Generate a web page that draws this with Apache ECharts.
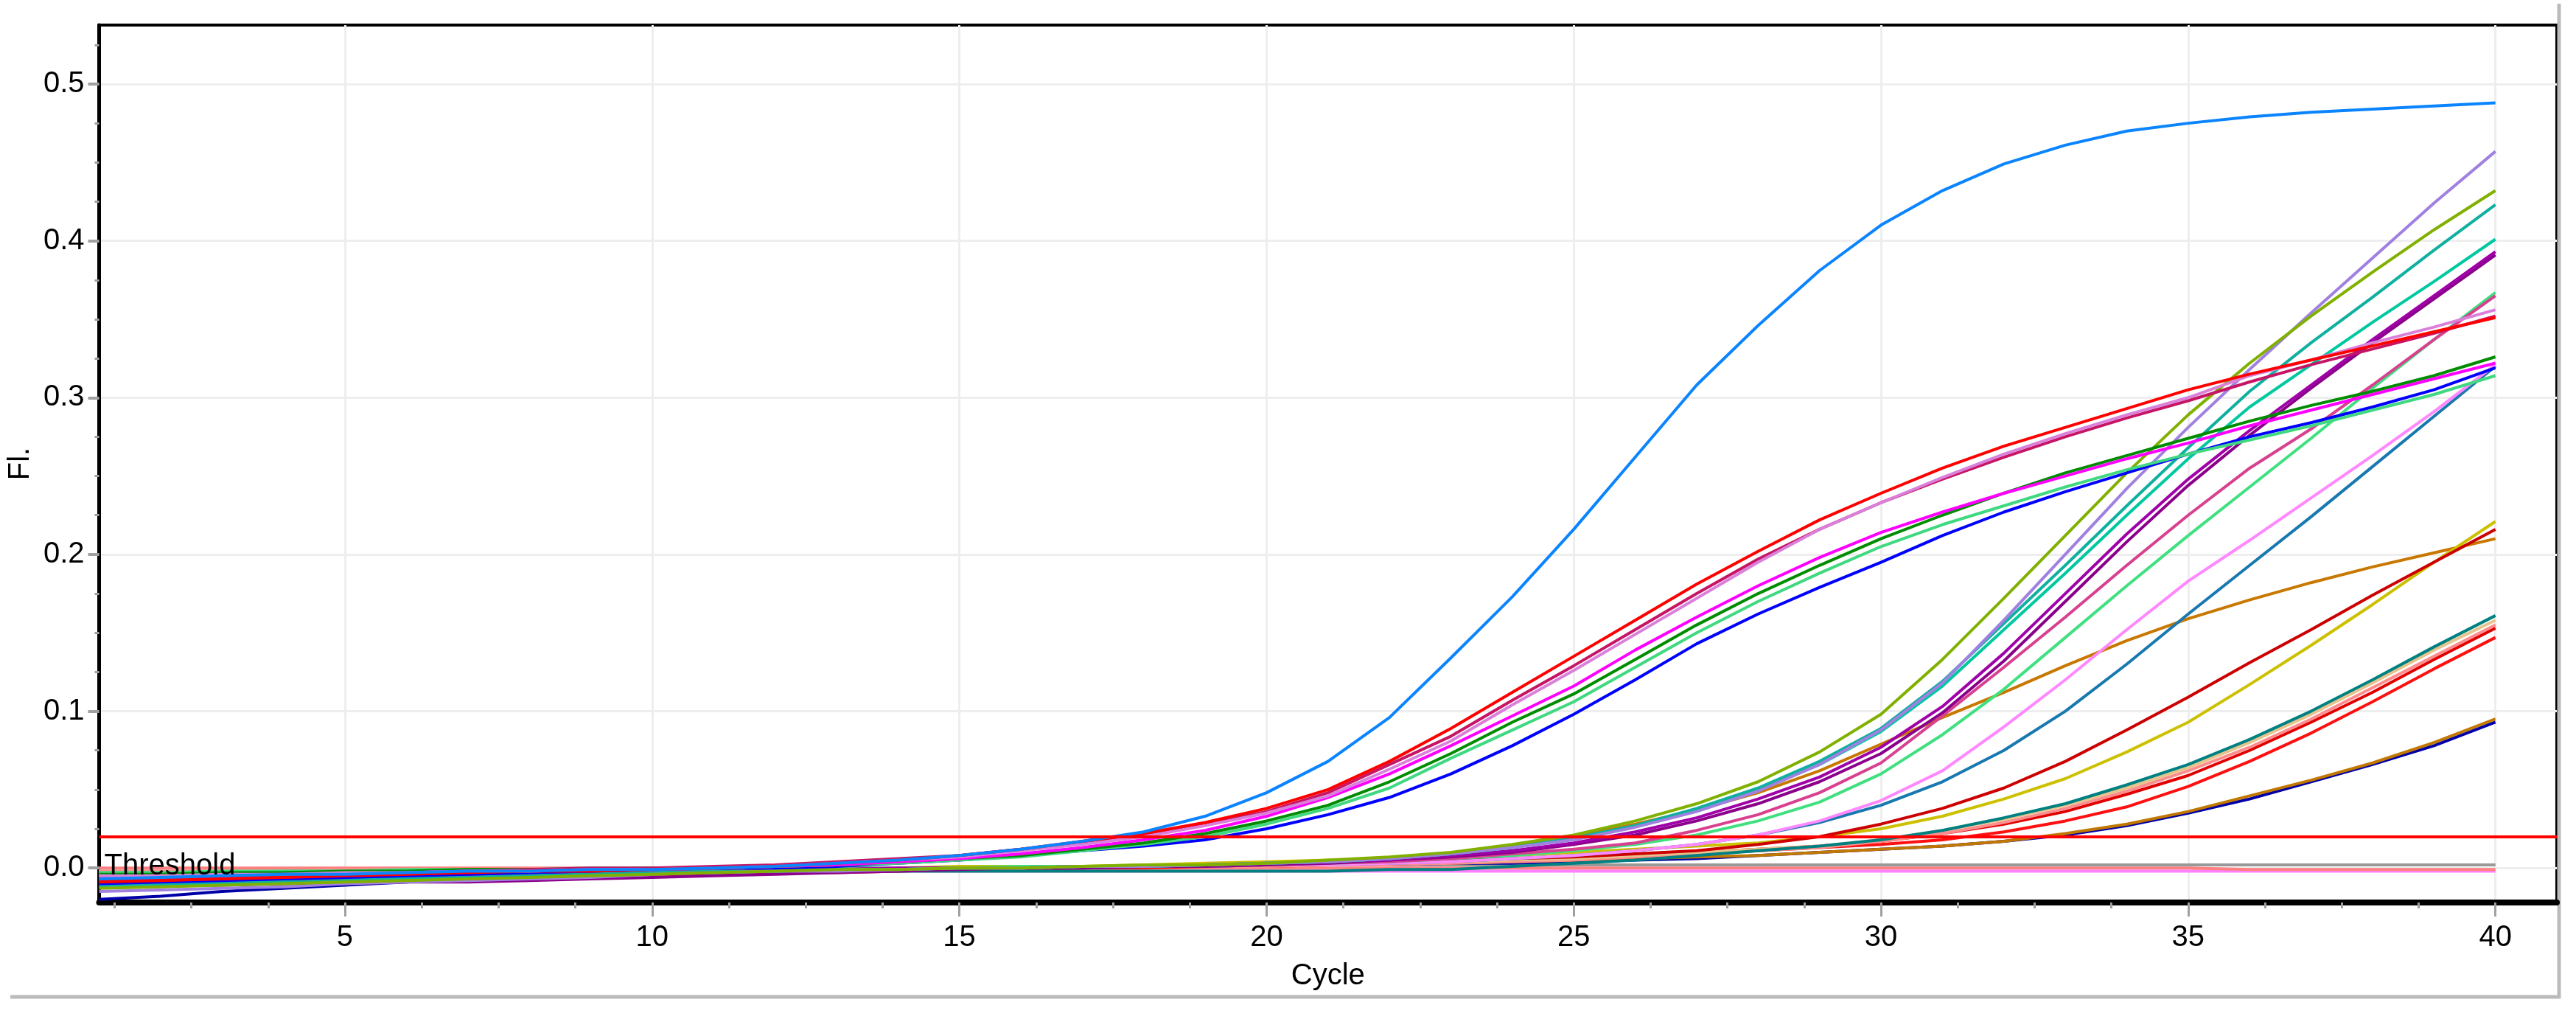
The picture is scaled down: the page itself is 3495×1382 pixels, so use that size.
<!DOCTYPE html>
<html>
<head>
<meta charset="utf-8">
<style>
html,body{margin:0;padding:0;background:#fff;}
#chart{width:3495px;height:1382px;}
</style>
<script src="https://cdn.jsdelivr.net/npm/echarts@6/dist/echarts.min.js"></script>
</head>
<body>
<div id="chart"></div>
<script>
const FONT = "'Liberation Sans Narrow','Arial Narrow','Liberation Sans',Arial,sans-serif";

const cycles = [1,2,3,4,5,6,7,8,9,10,11,12,13,14,15,16,17,18,19,20,21,22,23,24,25,26,27,28,29,30,31,32,33,34,35,36,37,38,39,40];
const xTickValues = [5,10,15,20,25,30,35,40];
const xMinorTicks = [1.25,2.5,3.75,6.25,7.5,8.75,11.25,12.5,13.75,16.25,17.5,18.75,21.25,22.5,23.75,26.25,27.5,28.75,31.25,32.5,33.75,36.25,37.5,38.75];
const yTickValues = [0,0.1,0.2,0.3,0.4,0.5];
const yMinorTicks = [0.025,0.05,0.075,0.125,0.15,0.175,0.225,0.25,0.275,0.325,0.35,0.375,0.425,0.45,0.475,0.525];
const threshold = 0.0155;

// ---- flat (negative) curves ----
const grayFlat = [-0.002,-0.002,-0.002,-0.001,-0.001,-0.001,-0.001,-0.001,0.000,0.000,0.000,0.000,0.000,0.000,0.000,0.000,0.001,0.001,0.001,0.001,0.002,0.002,0.002,0.002,0.002,0.002,0.002,0.002,0.002,0.002,0.002,0.002,0.002,0.002,0.002,0.002,0.002,0.002,0.002,0.002];
const lightGrayFlat = [-0.002,-0.002,-0.002,-0.002,-0.001,-0.001,-0.001,-0.001,-0.001,-0.001,-0.001,-0.001,-0.001,-0.001,-0.001,-0.001,-0.001,-0.001,-0.001,-0.001,-0.001,-0.001,-0.001,-0.001,-0.001,-0.001,-0.001,-0.001,-0.001,-0.001,-0.001,-0.001,-0.001,-0.001,-0.001,-0.001,-0.001,-0.001,-0.001,-0.001];
const violetFlat = [-0.005,-0.005,-0.004,-0.004,-0.004,-0.003,-0.003,-0.003,-0.003,-0.002,-0.002,-0.002,-0.002,-0.002,-0.002,-0.002,-0.002,-0.002,-0.002,-0.002,-0.002,-0.002,-0.002,-0.002,-0.002,-0.002,-0.002,-0.002,-0.002,-0.002,-0.002,-0.002,-0.002,-0.002,-0.002,-0.002,-0.002,-0.002,-0.002,-0.002];
const salmonFlat = [0.000,0.000,0.000,0.000,0.000,0.000,0.000,0.000,0.000,0.000,0.000,0.000,0.000,0.000,0.000,0.000,0.000,0.000,0.000,0.000,0.000,0.000,0.000,0.000,0.000,0.000,0.000,0.000,0.000,0.000,0.000,0.000,0.000,0.000,0.000,-0.001,-0.001,-0.001,-0.001,-0.001];

// ---- late curves ----
const navy = [-0.020,-0.018,-0.015,-0.013,-0.011,-0.009,-0.007,-0.006,-0.004,-0.003,-0.002,-0.001,-0.001,0.000,0.000,0.000,0.001,0.001,0.001,0.002,0.002,0.002,0.003,0.003,0.004,0.005,0.006,0.008,0.010,0.012,0.014,0.017,0.021,0.027,0.035,0.044,0.055,0.066,0.078,0.093];
const brownLow = [-0.006,-0.006,-0.005,-0.005,-0.004,-0.004,-0.003,-0.003,-0.002,-0.002,-0.002,-0.001,-0.001,0.000,0.000,0.000,0.001,0.001,0.001,0.002,0.002,0.003,0.003,0.004,0.005,0.006,0.007,0.008,0.010,0.012,0.014,0.017,0.022,0.028,0.036,0.046,0.056,0.067,0.080,0.095];
const redLow = [-0.009,-0.009,-0.008,-0.008,-0.007,-0.007,-0.006,-0.006,-0.005,-0.004,-0.004,-0.003,-0.003,-0.002,-0.001,-0.001,0.000,0.000,0.001,0.001,0.002,0.003,0.004,0.005,0.007,0.008,0.009,0.011,0.013,0.015,0.018,0.023,0.030,0.039,0.052,0.068,0.086,0.106,0.127,0.147];
const redMid = [-0.010,-0.010,-0.009,-0.009,-0.008,-0.008,-0.007,-0.006,-0.005,-0.004,-0.004,-0.003,-0.002,-0.001,-0.001,0.000,0.000,0.001,0.001,0.002,0.002,0.003,0.004,0.005,0.007,0.008,0.010,0.012,0.014,0.017,0.022,0.028,0.036,0.047,0.059,0.075,0.093,0.112,0.133,0.153];
const salmonLate = [-0.002,-0.002,-0.002,-0.002,-0.001,-0.001,-0.001,-0.001,-0.001,0.000,0.000,0.000,0.000,0.000,0.000,0.000,0.001,0.001,0.001,0.001,0.002,0.002,0.003,0.004,0.005,0.007,0.009,0.011,0.013,0.017,0.022,0.029,0.038,0.049,0.062,0.077,0.095,0.115,0.135,0.155];
const tan = [-0.004,-0.004,-0.003,-0.003,-0.003,-0.002,-0.002,-0.002,-0.001,-0.001,-0.001,-0.001,0.000,0.000,0.000,0.000,0.001,0.001,0.001,0.002,0.002,0.003,0.004,0.005,0.006,0.008,0.010,0.012,0.014,0.018,0.024,0.031,0.040,0.051,0.064,0.080,0.098,0.118,0.139,0.158];
const tealLate = [-0.006,-0.006,-0.005,-0.005,-0.004,-0.004,-0.004,-0.003,-0.003,-0.003,-0.002,-0.002,-0.002,-0.002,-0.002,-0.002,-0.002,-0.002,-0.002,-0.002,-0.002,-0.001,-0.001,0.001,0.003,0.005,0.008,0.011,0.014,0.018,0.024,0.032,0.041,0.053,0.066,0.082,0.100,0.120,0.141,0.161];
const orangeBrown = [-0.007,-0.006,-0.006,-0.005,-0.005,-0.004,-0.004,-0.003,-0.003,-0.002,-0.002,-0.001,-0.001,0.000,0.000,0.001,0.001,0.001,0.002,0.002,0.004,0.006,0.009,0.014,0.020,0.028,0.037,0.048,0.062,0.079,0.096,0.112,0.129,0.145,0.159,0.171,0.182,0.192,0.201,0.210];
const yellow = [-0.004,-0.004,-0.003,-0.003,-0.003,-0.002,-0.002,-0.002,-0.001,-0.001,-0.001,0.000,0.000,0.000,0.001,0.001,0.001,0.002,0.003,0.004,0.005,0.006,0.007,0.008,0.010,0.012,0.014,0.016,0.020,0.025,0.033,0.044,0.057,0.074,0.093,0.117,0.142,0.168,0.195,0.221];
const darkRed = [-0.009,-0.008,-0.008,-0.007,-0.006,-0.006,-0.005,-0.004,-0.004,-0.003,-0.002,-0.002,-0.001,-0.001,0.000,0.000,0.001,0.001,0.001,0.002,0.003,0.004,0.005,0.006,0.007,0.009,0.011,0.015,0.020,0.028,0.038,0.051,0.068,0.088,0.109,0.131,0.152,0.174,0.195,0.216];

// ---- middle curves ----
const steelBlue = [-0.010,-0.009,-0.008,-0.007,-0.006,-0.006,-0.005,-0.004,-0.003,-0.003,-0.002,-0.002,-0.001,-0.001,0.000,0.000,0.000,0.001,0.001,0.002,0.002,0.003,0.004,0.006,0.008,0.011,0.015,0.021,0.029,0.040,0.055,0.075,0.100,0.130,0.162,0.193,0.224,0.256,0.288,0.320];
const violet = [-0.005,-0.005,-0.004,-0.004,-0.003,-0.003,-0.002,-0.002,-0.001,-0.001,-0.001,0.000,0.000,0.000,0.000,0.000,0.001,0.001,0.001,0.002,0.002,0.003,0.004,0.006,0.008,0.011,0.015,0.021,0.030,0.043,0.062,0.090,0.120,0.152,0.183,0.209,0.236,0.263,0.291,0.321];
const springGreen = [-0.003,-0.003,-0.002,-0.002,-0.002,-0.001,-0.001,-0.001,0.000,0.000,0.000,0.000,0.000,0.000,0.000,0.001,0.001,0.001,0.002,0.002,0.003,0.004,0.006,0.008,0.011,0.015,0.021,0.030,0.042,0.060,0.085,0.114,0.147,0.180,0.212,0.243,0.274,0.306,0.337,0.367];
const raspberry = [-0.008,-0.007,-0.007,-0.006,-0.005,-0.005,-0.004,-0.003,-0.003,-0.002,-0.002,-0.001,-0.001,0.000,0.000,0.000,0.001,0.001,0.001,0.002,0.003,0.004,0.006,0.009,0.012,0.016,0.024,0.034,0.048,0.067,0.097,0.128,0.160,0.193,0.225,0.255,0.280,0.308,0.337,0.365];
const purple = [-0.012,-0.011,-0.011,-0.010,-0.010,-0.009,-0.009,-0.008,-0.007,-0.006,-0.005,-0.004,-0.003,-0.002,-0.001,0.000,0.000,0.001,0.001,0.002,0.003,0.005,0.007,0.010,0.015,0.021,0.030,0.041,0.055,0.073,0.099,0.132,0.170,0.208,0.244,0.276,0.306,0.335,0.363,0.391];
const darkMagenta = [-0.006,-0.006,-0.005,-0.005,-0.005,-0.004,-0.004,-0.003,-0.003,-0.002,-0.002,-0.001,-0.001,0.000,0.000,0.000,0.001,0.001,0.002,0.003,0.004,0.005,0.008,0.011,0.016,0.023,0.032,0.044,0.058,0.077,0.103,0.137,0.175,0.213,0.248,0.279,0.308,0.337,0.365,0.393];
const turquoise = [-0.012,-0.011,-0.010,-0.009,-0.008,-0.007,-0.006,-0.005,-0.004,-0.003,-0.003,-0.002,-0.001,-0.001,0.000,0.000,0.001,0.001,0.002,0.003,0.004,0.006,0.009,0.013,0.019,0.027,0.037,0.050,0.066,0.087,0.116,0.152,0.188,0.225,0.261,0.294,0.321,0.348,0.374,0.401];
const lightSeaGreen = [-0.011,-0.010,-0.009,-0.009,-0.008,-0.007,-0.006,-0.005,-0.004,-0.003,-0.002,-0.002,-0.001,-0.001,0.000,0.000,0.001,0.001,0.002,0.003,0.004,0.006,0.009,0.013,0.019,0.027,0.038,0.051,0.068,0.089,0.119,0.156,0.193,0.231,0.268,0.304,0.335,0.364,0.394,0.423];
const mediumPurple = [-0.015,-0.014,-0.013,-0.012,-0.010,-0.009,-0.008,-0.007,-0.006,-0.004,-0.003,-0.002,-0.002,-0.001,0.000,0.000,0.001,0.001,0.002,0.003,0.004,0.006,0.009,0.013,0.018,0.026,0.036,0.049,0.066,0.088,0.118,0.158,0.200,0.242,0.281,0.318,0.354,0.389,0.424,0.457];
const olive = [-0.013,-0.012,-0.011,-0.010,-0.009,-0.008,-0.007,-0.006,-0.005,-0.004,-0.003,-0.002,-0.001,-0.001,0.000,0.000,0.001,0.002,0.002,0.003,0.005,0.007,0.010,0.015,0.021,0.030,0.041,0.055,0.074,0.098,0.133,0.172,0.212,0.252,0.289,0.322,0.352,0.380,0.407,0.432];

// ---- early curves ----
const blueEarly = [-0.010,-0.009,-0.008,-0.007,-0.006,-0.005,-0.004,-0.003,-0.002,-0.001,0.000,0.000,0.001,0.003,0.005,0.008,0.011,0.014,0.018,0.025,0.034,0.045,0.060,0.078,0.098,0.120,0.143,0.162,0.179,0.195,0.212,0.227,0.240,0.252,0.264,0.275,0.284,0.294,0.305,0.319];
const seaGreenEarly = [-0.003,-0.003,-0.003,-0.002,-0.002,-0.002,-0.001,-0.001,-0.001,0.000,0.000,0.001,0.002,0.003,0.005,0.007,0.011,0.015,0.020,0.028,0.038,0.051,0.070,0.088,0.106,0.128,0.150,0.170,0.188,0.205,0.219,0.231,0.243,0.254,0.264,0.273,0.282,0.292,0.302,0.314];
const greenEarly = [-0.004,-0.004,-0.003,-0.003,-0.002,-0.002,-0.001,-0.001,-0.001,0.000,0.000,0.001,0.002,0.004,0.006,0.008,0.012,0.016,0.022,0.030,0.040,0.055,0.073,0.093,0.111,0.133,0.155,0.175,0.193,0.210,0.225,0.239,0.252,0.263,0.274,0.285,0.295,0.304,0.314,0.326];
const magentaEarly = [-0.007,-0.006,-0.005,-0.004,-0.004,-0.003,-0.002,-0.002,-0.001,-0.001,0.000,0.001,0.002,0.004,0.006,0.009,0.013,0.018,0.024,0.033,0.045,0.060,0.078,0.097,0.116,0.139,0.160,0.180,0.198,0.214,0.227,0.239,0.250,0.261,0.271,0.282,0.292,0.302,0.312,0.322];
const crimsonEarly = [-0.008,-0.007,-0.006,-0.005,-0.004,-0.003,-0.002,-0.001,0.000,0.000,0.001,0.002,0.004,0.006,0.008,0.012,0.016,0.021,0.028,0.036,0.048,0.066,0.084,0.107,0.129,0.152,0.175,0.197,0.216,0.233,0.248,0.262,0.275,0.287,0.298,0.310,0.321,0.331,0.341,0.352];
const orchidEarly = [-0.005,-0.005,-0.004,-0.004,-0.003,-0.003,-0.002,-0.002,-0.001,-0.001,0.000,0.001,0.003,0.005,0.007,0.011,0.015,0.020,0.027,0.035,0.046,0.063,0.081,0.104,0.126,0.149,0.172,0.195,0.216,0.233,0.249,0.264,0.277,0.289,0.300,0.314,0.324,0.335,0.345,0.356];
const redEarly = [-0.009,-0.008,-0.007,-0.006,-0.005,-0.004,-0.003,-0.002,-0.002,-0.001,0.000,0.001,0.003,0.005,0.008,0.012,0.017,0.022,0.029,0.038,0.050,0.068,0.089,0.112,0.135,0.158,0.181,0.202,0.222,0.239,0.255,0.269,0.281,0.293,0.305,0.315,0.324,0.333,0.342,0.351];
const skyBlue = [-0.007,-0.006,-0.005,-0.004,-0.004,-0.003,-0.002,-0.002,-0.001,-0.001,0.000,0.001,0.003,0.005,0.008,0.012,0.017,0.023,0.033,0.048,0.068,0.096,0.134,0.173,0.216,0.262,0.308,0.346,0.381,0.410,0.432,0.449,0.461,0.470,0.475,0.479,0.482,0.484,0.486,0.488];

const curveList = [
  ['grayFlat', '#999999', grayFlat],
  ['lightGrayFlat', '#E0E0E0', lightGrayFlat],
  ['violetFlat', '#FF80FF', violetFlat],
  ['salmonFlat', '#FF8080', salmonFlat],
  ['navy', '#0000A8', navy],
  ['brownLow', '#C07800', brownLow],
  ['redLow', '#FF1010', redLow],
  ['redMid', '#E00000', redMid],
  ['salmonLate', '#FF8C8C', salmonLate],
  ['tan', '#E6C48C', tan],
  ['tealLate', '#008080', tealLate],
  ['orangeBrown', '#C87800', orangeBrown],
  ['yellow', '#CCC000', yellow],
  ['darkRed', '#CC0000', darkRed],
  ['steelBlue', '#1878B0', steelBlue],
  ['violet', '#FF88FF', violet],
  ['springGreen', '#40E080', springGreen],
  ['raspberry', '#D84090', raspberry],
  ['purple', '#8B008B', purple],
  ['darkMagenta', '#A000A8', darkMagenta],
  ['turquoise', '#00C8A0', turquoise],
  ['lightSeaGreen', '#10B0A0', lightSeaGreen],
  ['mediumPurple', '#A080E0', mediumPurple],
  ['olive', '#80B000', olive],
  ['blueEarly', '#0000FF', blueEarly],
  ['seaGreenEarly', '#40D880', seaGreenEarly],
  ['greenEarly', '#008C00', greenEarly],
  ['magentaEarly', '#FF00FF', magentaEarly],
  ['crimsonEarly', '#C71565', crimsonEarly],
  ['orchidEarly', '#DA80DA', orchidEarly],
  ['redEarly', '#FF0000', redEarly],
  ['skyBlue', '#0A84FF', skyBlue]
];

const series = curveList.map(([name, color, vals]) => ({
  name: name,
  type: 'line',
  xAxisIndex: 0,
  yAxisIndex: 0,
  data: cycles.map((c, i) => [c, vals[i]]),
  symbol: 'none',
  showSymbol: false,
  lineStyle: { color: color, width: 4 },
  itemStyle: { color: color },
  emphasis: { disabled: true },
  animation: false
}));

series.push({
  name: 'threshold',
  type: 'line',
  xAxisIndex: 0,
  yAxisIndex: 0,
  data: [],
  z: 5,
  animation: false,
  markLine: {
    silent: true,
    animation: false,
    symbol: ['none', 'none'],
    lineStyle: { color: '#FF0000', width: 4, type: 'solid' },
    label: {
      show: true,
      formatter: 'Threshold',
      position: 'insideStartBottom',
      distance: [7, 20],
      color: '#000',
      fontFamily: FONT,
      fontSize: 40
    },
    emphasis: { disabled: true },
    data: [{ yAxis: threshold }]
  }
});

const chart = echarts.init(document.getElementById('chart'), null, { renderer: 'canvas' });
chart.setOption({
  backgroundColor: '#ffffff',
  animation: false,
  grid: {
    left: 118, right: 26, top: 34, bottom: 158,
    show: true, borderColor: '#000000', borderWidth: 4, backgroundColor: '#ffffff'
  },
  xAxis: [
    {
      type: 'value', min: 1, max: 41,
      name: 'Cycle', nameLocation: 'middle', nameGap: 80,
      nameTextStyle: { fontFamily: FONT, fontSize: 40, color: '#000' },
      axisLine: { show: true, onZero: false, lineStyle: { color: '#000', width: 8 } },
      axisTick: { show: true, customValues: xTickValues, length: 19, lineStyle: { color: '#A0A0A0', width: 3 } },
      axisLabel: { customValues: xTickValues, margin: 28, fontFamily: FONT, fontSize: 40, color: '#000' },
      splitLine: { show: true, lineStyle: { color: '#EEEEEE', width: 3 } }
    },
    {
      type: 'value', min: 1, max: 41, position: 'bottom',
      axisLine: { show: false, onZero: false },
      axisTick: { show: true, customValues: xMinorTicks, length: 8, lineStyle: { color: '#A0A0A0', width: 3 } },
      axisLabel: { show: false },
      splitLine: { show: false }
    }
  ],
  yAxis: [
    {
      type: 'value', min: -0.022, max: 0.5376,
      name: 'Fl.', nameLocation: 'middle', nameGap: 68, nameRotate: 90,
      nameTextStyle: { fontFamily: FONT, fontSize: 40, color: '#000' },
      axisLine: { show: true, onZero: false, lineStyle: { color: '#000', width: 5 } },
      axisTick: { show: true, customValues: yTickValues, length: 15, lineStyle: { color: '#A0A0A0', width: 4 } },
      axisLabel: { customValues: yTickValues, margin: 20, fontFamily: FONT, fontSize: 40, color: '#000',
        formatter: v => Number(v).toFixed(1) },
      splitLine: { show: true, lineStyle: { color: '#EEEEEE', width: 3 } }
    },
    {
      type: 'value', min: -0.022, max: 0.5376, position: 'left',
      axisLine: { show: false, onZero: false },
      axisTick: { show: true, customValues: yMinorTicks, length: 6, lineStyle: { color: '#A0A0A0', width: 3 } },
      axisLabel: { show: false },
      splitLine: { show: false }
    }
  ],
  graphic: [
    { type: 'line', silent: true, shape: { x1: 3472, y1: 5, x2: 3472, y2: 1354 }, style: { stroke: '#BBBBBB', lineWidth: 5 } },
    { type: 'line', silent: true, shape: { x1: 14, y1: 1352, x2: 3474, y2: 1352 }, style: { stroke: '#BBBBBB', lineWidth: 5 } }
  ],
  series: series
});
</script>
</body>
</html>
